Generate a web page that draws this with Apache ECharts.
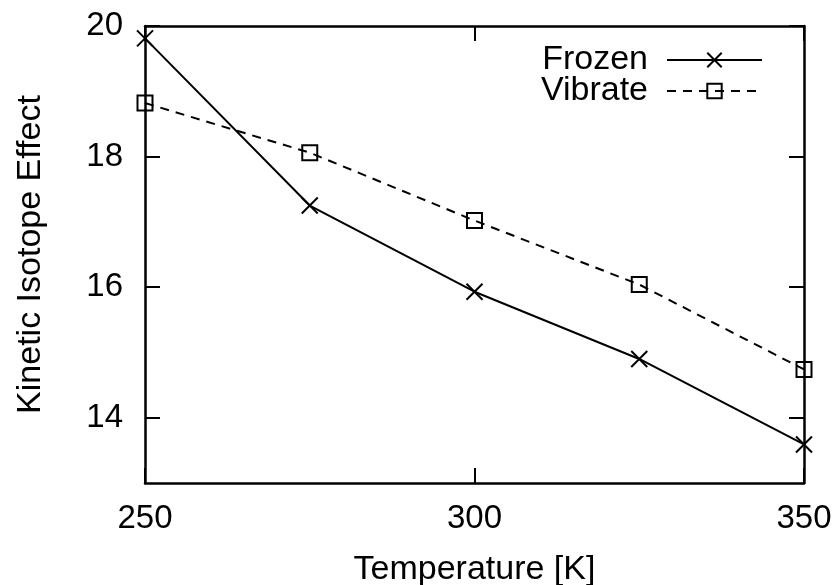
<!DOCTYPE html>
<html>
<head>
<meta charset="utf-8">
<script src="https://cdn.jsdelivr.net/npm/echarts@6/dist/echarts.min.js"></script>
<style>html,body{margin:0;padding:0;background:#fff}#c{width:838px;height:585px}</style>
</head>
<body>
<div id="c"></div>
<script>
var temperatures = [250, 275, 300, 325, 350];
var frozen = [19.81, 17.25, 15.93, 14.90, 13.59];
var vibrate = [18.82, 18.06, 17.02, 16.04, 14.74];
var xTicks = [250, 300, 350];
var yTicks = [14, 16, 18, 20];
var seriesNames = ['Frozen', 'Vibrate'];

var FONT = 'Liberation Sans';
var crossPath = 'path://M0,0L10,10M10,0L0,10';
var squarePath = 'path://M0,0L10,0L10,10L0,10Z';

function pairs(xs, ys) { return xs.map(function (x, i) { return [x, ys[i]]; }); }

var chart = echarts.init(document.getElementById('c'), null, {renderer: 'canvas'});
var axisLine = {show: true, lineStyle: {color: '#000', width: 2.5}};
var tick = {show: true, inside: true, length: 15, lineStyle: {color: '#000', width: 2}};
chart.setOption({
  animation: false,
  backgroundColor: '#fff',
  grid: {left: 145, right: 34, top: 26, bottom: 102, containLabel: false, outerBoundsMode: 'none'},
  legend: {
    orient: 'vertical',
    right: 75,
    top: 43,
    padding: 0,
    align: 'right',
    itemWidth: 95,
    itemHeight: 18,
    itemGap: -3,
    data: seriesNames,
    textStyle: {fontFamily: FONT, fontSize: 34, color: '#000', width: 130, align: 'right', padding: [0, 14, 0, 0]}
  },
  xAxis: [{
    type: 'value', position: 'bottom', min: xTicks[0], max: xTicks[xTicks.length - 1], interval: 50,
    axisLine: axisLine, axisTick: tick, splitLine: {show: false},
    axisLabel: {margin: 19, fontFamily: FONT, fontSize: 33, color: '#000'},
    name: 'Temperature [K]', nameLocation: 'middle', nameGap: 70,
    nameTextStyle: {fontFamily: FONT, fontSize: 34, color: '#000'}
  }, {
    type: 'value', position: 'top', min: xTicks[0], max: xTicks[xTicks.length - 1], interval: 50,
    axisLine: axisLine, axisTick: tick, splitLine: {show: false}, axisLabel: {show: false}
  }],
  yAxis: [{
    type: 'value', position: 'left', min: 13, max: 20,
    axisLine: axisLine,
    axisTick: {show: true, inside: true, length: 15, lineStyle: {color: '#000', width: 2}, customValues: yTicks},
    splitLine: {show: false},
    axisLabel: {margin: 22, fontFamily: FONT, fontSize: 33, color: '#000', customValues: yTicks},
    name: 'Kinetic Isotope Effect', nameLocation: 'middle', nameGap: 114, nameRotate: 90,
    nameTextStyle: {fontFamily: FONT, fontSize: 34, color: '#000', verticalAlign: 'middle'}
  }, {
    type: 'value', position: 'right', min: 13, max: 20,
    axisLine: axisLine,
    axisTick: {show: true, inside: true, length: 15, lineStyle: {color: '#000', width: 2}, customValues: yTicks},
    splitLine: {show: false}, axisLabel: {show: false, customValues: yTicks}
  }],
  series: [{
    name: seriesNames[0], type: 'line', data: pairs(temperatures, frozen),
    symbol: crossPath, symbolSize: 16, showAllSymbol: true,
    lineStyle: {color: '#000', width: 2, type: 'solid'},
    itemStyle: {color: 'none', borderColor: '#000', borderWidth: 2}
  }, {
    name: seriesNames[1], type: 'line', data: pairs(temperatures, vibrate),
    symbol: squarePath, symbolSize: 15, showAllSymbol: true,
    lineStyle: {color: '#000', width: 2, type: [9, 7]},
    itemStyle: {color: 'none', borderColor: '#000', borderWidth: 2}
  }]
});
</script>
</body>
</html>
